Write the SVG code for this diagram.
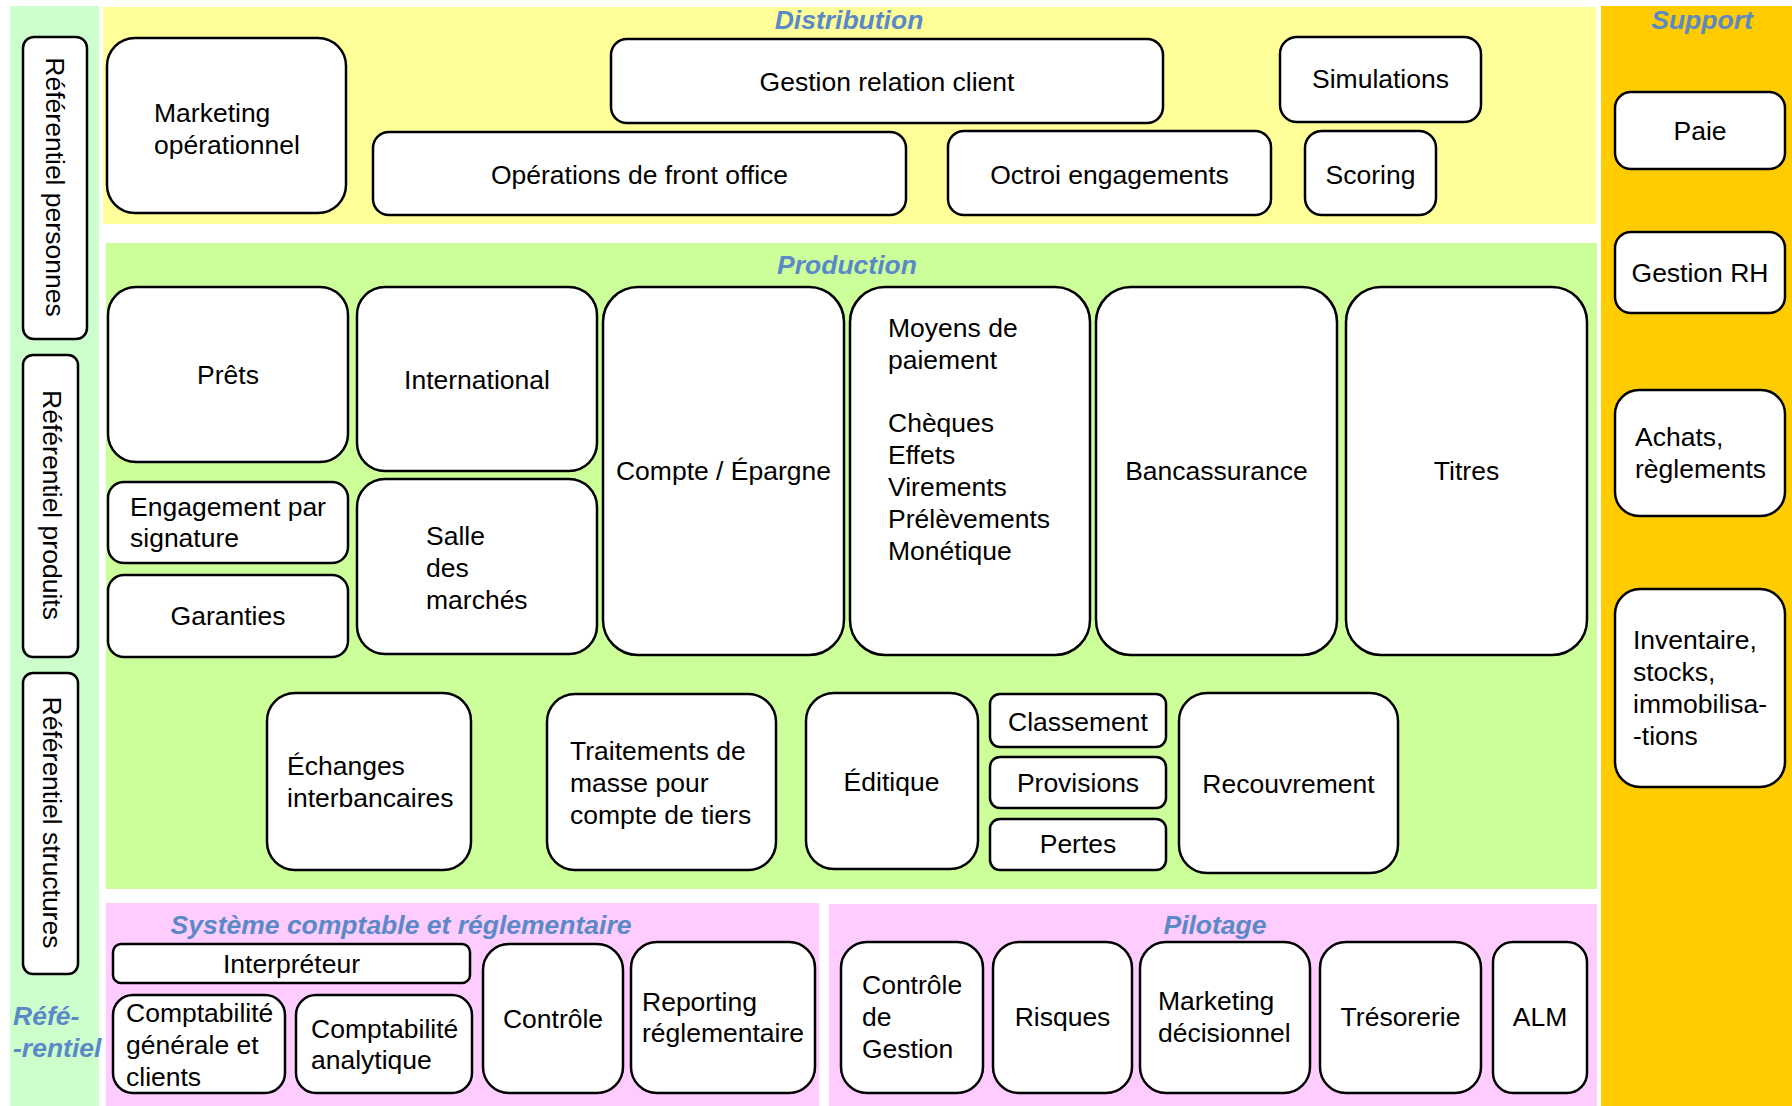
<svg xmlns="http://www.w3.org/2000/svg" width="1792" height="1106" viewBox="0 0 1792 1106">
<style>
.n{fill:#fff;stroke:#000;stroke-width:2.5}
.t{font-family:"Liberation Sans",Arial,sans-serif;font-size:26.5px;fill:#000}
.c{text-anchor:middle}
.h{font-family:"Liberation Sans",Arial,sans-serif;font-size:26.5px;font-weight:bold;font-style:italic;fill:#5B89C8}
</style>
<rect width="1792" height="1106" fill="#fff"/>
<g id="zones">
<rect x="10" y="6" width="89" height="1100" fill="#CCFFCC"/>
<rect x="103" y="7" width="1493" height="217" fill="#FFFF99"/>
<rect x="1601" y="6" width="191" height="1100" fill="#FFCC00"/>
<rect x="106" y="243" width="1491" height="646" fill="#CCFF99"/>
<rect x="106" y="903" width="713" height="203" fill="#FFCCFF"/>
<rect x="829" y="904" width="768" height="202" fill="#FFCCFF"/>
<text class="h c" x="849" y="29">Distribution</text>
<text class="h c" x="1702" y="29">Support</text>
<text class="h c" x="847" y="274">Production</text>
<text class="h c" x="401" y="934">Système comptable et réglementaire</text>
<text class="h c" x="1215" y="934">Pilotage</text>
<text class="h" x="13" y="1025">Réfé-</text>
<text class="h" x="13" y="1057">-rentiel</text>
</g>
<g id="connectors"></g>
<g id="ref-personnes"><rect class="n" x="23" y="37" width="64" height="302" rx="11"/><text class="t c" transform="translate(53,187) rotate(90)" x="0" y="7">Référentiel personnes</text></g>
<g id="ref-produits"><rect class="n" x="23" y="355" width="55" height="302" rx="10"/><text class="t c" transform="translate(49.5,505) rotate(90)" x="0" y="7">Référentiel produits</text></g>
<g id="ref-structures"><rect class="n" x="23" y="673" width="55" height="301" rx="10"/><text class="t c" transform="translate(49.5,822.5) rotate(90)" x="0" y="7">Référentiel structures</text></g>

<g id="marketing-op"><rect class="n" x="107" y="38" width="239" height="175" rx="28"/><text class="t" x="154" y="122">Marketing</text><text class="t" x="154" y="154">opérationnel</text></g>
<g id="grc"><rect class="n" x="611" y="39" width="552" height="84" rx="16"/><text class="t c" x="887" y="91">Gestion relation client</text></g>
<g id="front-office"><rect class="n" x="373" y="132" width="533" height="83" rx="16"/><text class="t c" x="639.5" y="184">Opérations de front office</text></g>
<g id="octroi"><rect class="n" x="948" y="131" width="323" height="84" rx="16"/><text class="t c" x="1109.5" y="184">Octroi engagements</text></g>
<g id="simulations"><rect class="n" x="1280" y="37" width="201" height="85" rx="17"/><text class="t c" x="1380.5" y="88">Simulations</text></g>
<g id="scoring"><rect class="n" x="1305" y="131" width="131" height="84" rx="17"/><text class="t c" x="1370.5" y="184">Scoring</text></g>

<g id="paie"><rect class="n" x="1615" y="92" width="170" height="77" rx="16"/><text class="t c" x="1700" y="140">Paie</text></g>
<g id="gestion-rh"><rect class="n" x="1615" y="232" width="170" height="81" rx="16"/><text class="t c" x="1700" y="282">Gestion RH</text></g>
<g id="achats"><rect class="n" x="1615" y="390" width="170" height="126" rx="24"/><text class="t" x="1635" y="446">Achats,</text><text class="t" x="1635" y="478">règlements</text></g>
<g id="inventaire"><rect class="n" x="1615" y="589" width="170" height="198" rx="25"/><text class="t" x="1633" y="649">Inventaire,</text><text class="t" x="1633" y="681">stocks,</text><text class="t" x="1633" y="713">immobilisa-</text><text class="t" x="1633" y="745">-tions</text></g>

<g id="prets"><rect class="n" x="108" y="287" width="240" height="175" rx="28"/><text class="t c" x="228" y="384">Prêts</text></g>
<g id="international"><rect class="n" x="357" y="287" width="240" height="184" rx="28"/><text class="t c" x="477" y="389">International</text></g>
<g id="engagement"><rect class="n" x="108" y="482" width="240" height="81" rx="16"/><text class="t" x="130" y="516">Engagement par</text><text class="t" x="130" y="547">signature</text></g>
<g id="garanties"><rect class="n" x="108" y="575" width="240" height="82" rx="16"/><text class="t c" x="228" y="625">Garanties</text></g>
<g id="salle"><rect class="n" x="357" y="479" width="240" height="175" rx="28"/><text class="t" x="426" y="545">Salle</text><text class="t" x="426" y="577">des</text><text class="t" x="426" y="609">marchés</text></g>
<g id="compte"><rect class="n" x="603" y="287" width="241" height="368" rx="35"/><text class="t c" x="723.5" y="480">Compte / Épargne</text></g>
<g id="moyens"><rect class="n" x="850" y="287" width="240" height="368" rx="35"/><text class="t" x="888" y="337">Moyens de</text><text class="t" x="888" y="369">paiement</text><text class="t" x="888" y="432">Chèques</text><text class="t" x="888" y="464">Effets</text><text class="t" x="888" y="496">Virements</text><text class="t" x="888" y="528">Prélèvements</text><text class="t" x="888" y="560">Monétique</text></g>
<g id="bancassurance"><rect class="n" x="1096" y="287" width="241" height="368" rx="35"/><text class="t c" x="1216.5" y="480">Bancassurance</text></g>
<g id="titres"><rect class="n" x="1346" y="287" width="241" height="368" rx="35"/><text class="t c" x="1466.5" y="480">Titres</text></g>

<g id="echanges"><rect class="n" x="267" y="693" width="204" height="177" rx="28"/><text class="t" x="287" y="775">Échanges</text><text class="t" x="287" y="807">interbancaires</text></g>
<g id="traitements"><rect class="n" x="547" y="694" width="229" height="176" rx="28"/><text class="t" x="570" y="760">Traitements de</text><text class="t" x="570" y="792">masse pour</text><text class="t" x="570" y="824">compte de tiers</text></g>
<g id="editique"><rect class="n" x="806" y="693" width="172" height="176" rx="28"/><text class="t c" x="891.5" y="791">Éditique</text></g>
<g id="classement"><rect class="n" x="990" y="694" width="176" height="53" rx="10"/><text class="t c" x="1078" y="731">Classement</text></g>
<g id="provisions"><rect class="n" x="990" y="757" width="176" height="51" rx="10"/><text class="t c" x="1078" y="792">Provisions</text></g>
<g id="pertes"><rect class="n" x="990" y="819" width="176" height="51" rx="10"/><text class="t c" x="1078" y="853">Pertes</text></g>
<g id="recouvrement"><rect class="n" x="1179" y="693" width="219" height="180" rx="28"/><text class="t c" x="1288.5" y="793">Recouvrement</text></g>

<g id="interpreteur"><rect class="n" x="113" y="944" width="357" height="39" rx="8"/><text class="t c" x="291.5" y="973">Interpréteur</text></g>
<g id="compta-generale"><rect class="n" x="113" y="995" width="172" height="98" rx="20"/><text class="t" x="126" y="1022">Comptabilité</text><text class="t" x="126" y="1054">générale et</text><text class="t" x="126" y="1086">clients</text></g>
<g id="compta-analytique"><rect class="n" x="296" y="995" width="176" height="98" rx="20"/><text class="t" x="311" y="1038">Comptabilité</text><text class="t" x="311" y="1069">analytique</text></g>
<g id="controle"><rect class="n" x="483" y="944" width="140" height="149" rx="26"/><text class="t c" x="553" y="1028">Contrôle</text></g>
<g id="reporting"><rect class="n" x="631" y="942" width="184" height="151" rx="26"/><text class="t" x="642" y="1011">Reporting</text><text class="t" x="642" y="1042">réglementaire</text></g>

<g id="controle-gestion"><rect class="n" x="841" y="942" width="142" height="151" rx="26"/><text class="t" x="862" y="994">Contrôle</text><text class="t" x="862" y="1026">de</text><text class="t" x="862" y="1058">Gestion</text></g>
<g id="risques"><rect class="n" x="993" y="942" width="139" height="151" rx="26"/><text class="t c" x="1062.5" y="1026">Risques</text></g>
<g id="marketing-dec"><rect class="n" x="1140" y="942" width="170" height="151" rx="26"/><text class="t" x="1158" y="1010">Marketing</text><text class="t" x="1158" y="1042">décisionnel</text></g>
<g id="tresorerie"><rect class="n" x="1320" y="942" width="161" height="151" rx="26"/><text class="t c" x="1400.5" y="1026">Trésorerie</text></g>
<g id="alm"><rect class="n" x="1493" y="942" width="94" height="151" rx="20"/><text class="t c" x="1540" y="1026">ALM</text></g>
</svg>
